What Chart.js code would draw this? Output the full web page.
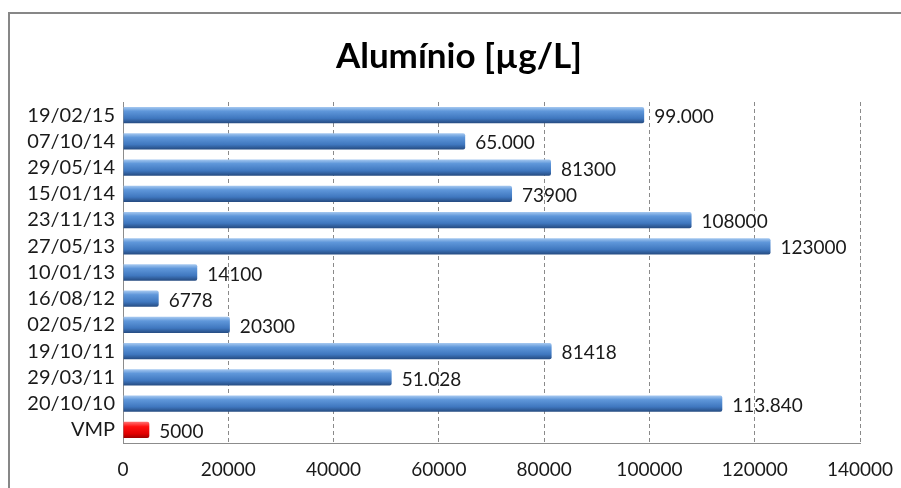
<!DOCTYPE html>
<html>
<head>
<meta charset="utf-8">
<script src="https://cdn.jsdelivr.net/npm/chart.js@4.4.0/dist/chart.umd.min.js"></script>
<style>
  html, body { margin: 0; padding: 0; background: #fff; }
  #wrap { width: 901px; height: 488px; }
</style>
</head>
<body>
<div id="wrap"><canvas id="chart" width="901" height="488"></canvas></div>
<script>
// chart data
const categories = ['19/02/15', '07/10/14', '29/05/14', '15/01/14', '23/11/13', '27/05/13',
  '10/01/13', '16/08/12', '02/05/12', '19/10/11', '29/03/11', '20/10/10', 'VMP'];
const values = [99000, 65000, 81300, 73900, 108000, 123000, 14100, 6778, 20300, 81418, 51028, 113840, 5000];
const valueLabels = ['99.000', '65.000', '81300', '73900', '108000', '123000', '14100', '6778',
  '20300', '81418', '51.028', '113.840', '5000'];
const xTicks = [0, 20000, 40000, 60000, 80000, 100000, 120000, 140000];

const FONT = 'Lato, "Open Sans", sans-serif';

// gradient fill per bar, built from the bar's own pixel position
function barFill(ctx) {
  const chart = ctx.chart;
  const isVmp = categories[ctx.dataIndex] === 'VMP';
  const yScale = chart.scales.y;
  const cy = yScale ? yScale.getPixelForValue(ctx.dataIndex) : NaN;
  if (!isFinite(cy)) return isVmp ? '#e00000' : '#4f81bd';
  const half = 8;
  const g = chart.ctx.createLinearGradient(0, cy - half, 0, cy + half);
  if (isVmp) {
    g.addColorStop(0, '#ff7070');
    g.addColorStop(0.3, '#ff1010');
    g.addColorStop(0.75, '#e00000');
    g.addColorStop(1, '#a00000');
  } else {
    g.addColorStop(0, '#a5c8f0');
    g.addColorStop(0.25, '#5f97da');
    g.addColorStop(0.7, '#3f77bf');
    g.addColorStop(1, '#264c82');
  }
  return g;
}

// outer border + centre the title on the frame, not the plot
const frame = {
  id: 'frame',
  afterLayout(chart) {
    const t = chart.titleBlock;
    if (t) { t.left = 8; t.right = 910; }
  },
  beforeDraw(chart) {
    const c = chart.ctx;
    c.save();
    c.fillStyle = '#fff';
    c.fillRect(0, 0, chart.width, chart.height);
    c.strokeStyle = '#878787';
    c.lineWidth = 2;
    c.strokeRect(9, 13, chart.width + 20, chart.height + 20);
    c.restore();
  }
};

// value text to the right of each bar
const barLabels = {
  id: 'barLabels',
  afterDatasetsDraw(chart) {
    const c = chart.ctx;
    const meta = chart.getDatasetMeta(0);
    c.save();
    c.font = '19px ' + FONT;
    c.fillStyle = '#1a1a1a';
    c.textAlign = 'left';
    c.textBaseline = 'middle';
    meta.data.forEach((bar, i) => {
      c.fillText(valueLabels[i], bar.x + 10, bar.y + 2);
    });
    c.restore();
  }
};

const chart = new Chart(document.getElementById('chart'), {
  type: 'bar',
  data: {
    labels: categories,
    datasets: [{
      data: values,
      backgroundColor: barFill,
      borderWidth: 0,
      borderRadius: 2,
      borderSkipped: 'start',
      barPercentage: 0.62,
      categoryPercentage: 1
    }]
  },
  options: {
    indexAxis: 'y',
    responsive: false,
    animation: false,
    layout: { padding: { left: 12, right: 41, top: 0, bottom: 7 } },
    plugins: {
      legend: { display: false },
      tooltip: { enabled: false },
      title: {
        display: true,
        text: 'Alumínio [µg/L]',
        color: '#000',
        font: { family: FONT, size: 35, weight: 'bold' },
        padding: { top: 36, bottom: 24 }
      }
    },
    scales: {
      x: {
        min: 0,
        max: 140000,
        afterBuildTicks(scale) {
          scale.ticks = xTicks.map(v => ({ value: v }));
        },
        afterFit(scale) {
          scale.height = 38;
          scale.paddingRight = 0;
        },
        ticks: {
          color: '#1a1a1a',
          font: { family: FONT, size: 19 },
          padding: 15,
          maxRotation: 0,
          callback: v => String(v)
        },
        grid: {
          color: ctx => ctx.index === 0 ? 'rgba(0,0,0,0)' : '#8a8a8a',
          drawTicks: false
        },
        border: { display: true, color: '#8c8c8c', width: 1, dash: [4, 3] }
      },
      y: {
        afterFit(scale) { scale.width = 111; },
        ticks: {
          color: '#1a1a1a',
          font: { family: FONT, size: 20 },
          padding: 8,
          autoSkip: false
        },
        grid: { display: false, drawTicks: false },
        border: { display: true, color: '#8c8c8c', width: 1 }
      }
    }
  },
  plugins: [frame, barLabels]
});
chart.update();
</script>
</body>
</html>
